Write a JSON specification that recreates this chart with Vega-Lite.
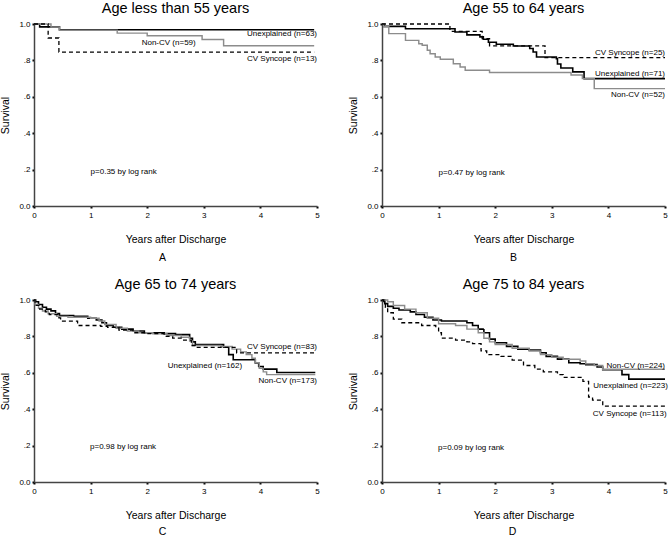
{
  "$schema": "https://vega.github.io/schema/vega-lite/v6.json",
  "padding": {"left": 0, "top": 0, "right": 0, "bottom": 0},
  "config": {
    "font": "Liberation Sans",
    "view": {"stroke": null},
    "axis": {"grid": false, "domainColor": "#444", "domainWidth": 1.5, "tickColor": "#000", "tickSize": 2, "tickWidth": 2, "labelFontSize": 8, "labelColor": "#000", "labelOverlap": false, "labelFlush": false, "titleFontSize": 10.5, "titleFontWeight": "normal", "titleColor": "#000"},
    "title": {"fontSize": 14.5, "fontWeight": "normal", "color": "#000", "anchor": "middle", "baseline": "alphabetic", "offset": 4}
  },
  "columns": 2,
  "spacing": {"column": 65, "row": 94},
  "bounds": "flush",
  "datasets": {
    "curves": [
      {"panel":"A","series":"Unexplained","t":0,"s":1},{"panel":"A","series":"Unexplained","t":0.1,"s":0.984},{"panel":"A","series":"Unexplained","t":0.45,"s":0.968},{"panel":"A","series":"Unexplained","t":4.95,"s":0.968},
      {"panel":"A","series":"Non-CV","t":0,"s":1},{"panel":"A","series":"Non-CV","t":0.3,"s":0.983},{"panel":"A","series":"Non-CV","t":0.45,"s":0.966},{"panel":"A","series":"Non-CV","t":1.47,"s":0.95},{"panel":"A","series":"Non-CV","t":2.0,"s":0.935},{"panel":"A","series":"Non-CV","t":2.97,"s":0.915},{"panel":"A","series":"Non-CV","t":3.35,"s":0.88},{"panel":"A","series":"Non-CV","t":4.95,"s":0.88},
      {"panel":"A","series":"CV Syncope","t":0,"s":1},{"panel":"A","series":"CV Syncope","t":0.25,"s":0.923},{"panel":"A","series":"CV Syncope","t":0.44,"s":0.846},{"panel":"A","series":"CV Syncope","t":4.95,"s":0.846},

      {"panel":"B","series":"Unexplained","t":0,"s":1},{"panel":"B","series":"Unexplained","t":0.035,"s":0.987},{"panel":"B","series":"Unexplained","t":0.415,"s":0.974},{"panel":"B","series":"Unexplained","t":1.29,"s":0.956},{"panel":"B","series":"Unexplained","t":1.5,"s":0.94},{"panel":"B","series":"Unexplained","t":1.73,"s":0.929},{"panel":"B","series":"Unexplained","t":1.79,"s":0.916},{"panel":"B","series":"Unexplained","t":1.88,"s":0.9},{"panel":"B","series":"Unexplained","t":2.02,"s":0.889},{"panel":"B","series":"Unexplained","t":2.32,"s":0.879},{"panel":"B","series":"Unexplained","t":2.61,"s":0.865},{"panel":"B","series":"Unexplained","t":2.67,"s":0.846},{"panel":"B","series":"Unexplained","t":2.73,"s":0.819},{"panel":"B","series":"Unexplained","t":3.08,"s":0.81},{"panel":"B","series":"Unexplained","t":3.1,"s":0.78},{"panel":"B","series":"Unexplained","t":3.16,"s":0.758},{"panel":"B","series":"Unexplained","t":3.37,"s":0.737},{"panel":"B","series":"Unexplained","t":3.57,"s":0.7},{"panel":"B","series":"Unexplained","t":5.0,"s":0.7},
      {"panel":"B","series":"Non-CV","t":0,"s":1},{"panel":"B","series":"Non-CV","t":0.03,"s":0.985},{"panel":"B","series":"Non-CV","t":0.12,"s":0.947},{"panel":"B","series":"Non-CV","t":0.415,"s":0.91},{"panel":"B","series":"Non-CV","t":0.65,"s":0.892},{"panel":"B","series":"Non-CV","t":0.71,"s":0.883},{"panel":"B","series":"Non-CV","t":0.8,"s":0.856},{"panel":"B","series":"Non-CV","t":0.85,"s":0.837},{"panel":"B","series":"Non-CV","t":0.94,"s":0.819},{"panel":"B","series":"Non-CV","t":1.03,"s":0.806},{"panel":"B","series":"Non-CV","t":1.26,"s":0.782},{"panel":"B","series":"Non-CV","t":1.38,"s":0.764},{"panel":"B","series":"Non-CV","t":1.47,"s":0.746},{"panel":"B","series":"Non-CV","t":1.9,"s":0.733},{"panel":"B","series":"Non-CV","t":3.34,"s":0.72},{"panel":"B","series":"Non-CV","t":3.54,"s":0.7},{"panel":"B","series":"Non-CV","t":3.75,"s":0.645},{"panel":"B","series":"Non-CV","t":5.0,"s":0.645},
      {"panel":"B","series":"CV Syncope","t":0,"s":1},{"panel":"B","series":"CV Syncope","t":1.2,"s":0.96},{"panel":"B","series":"CV Syncope","t":1.77,"s":0.92},{"panel":"B","series":"CV Syncope","t":1.9,"s":0.88},{"panel":"B","series":"CV Syncope","t":2.88,"s":0.815},{"panel":"B","series":"CV Syncope","t":5.0,"s":0.815},

      {"panel":"C","series":"Unexplained","t":0,"s":1},{"panel":"C","series":"Unexplained","t":0.03,"s":0.99},{"panel":"C","series":"Unexplained","t":0.08,"s":0.975},{"panel":"C","series":"Unexplained","t":0.15,"s":0.96},{"panel":"C","series":"Unexplained","t":0.22,"s":0.95},{"panel":"C","series":"Unexplained","t":0.3,"s":0.94},{"panel":"C","series":"Unexplained","t":0.38,"s":0.925},{"panel":"C","series":"Unexplained","t":0.45,"s":0.915},{"panel":"C","series":"Unexplained","t":0.7,"s":0.91},{"panel":"C","series":"Unexplained","t":0.95,"s":0.9},{"panel":"C","series":"Unexplained","t":1.1,"s":0.89},{"panel":"C","series":"Unexplained","t":1.2,"s":0.875},{"panel":"C","series":"Unexplained","t":1.28,"s":0.86},{"panel":"C","series":"Unexplained","t":1.4,"s":0.85},{"panel":"C","series":"Unexplained","t":1.55,"s":0.84},{"panel":"C","series":"Unexplained","t":1.75,"s":0.83},{"panel":"C","series":"Unexplained","t":1.95,"s":0.82},{"panel":"C","series":"Unexplained","t":2.3,"s":0.815},{"panel":"C","series":"Unexplained","t":2.5,"s":0.81},{"panel":"C","series":"Unexplained","t":2.75,"s":0.79},{"panel":"C","series":"Unexplained","t":2.8,"s":0.77},{"panel":"C","series":"Unexplained","t":2.85,"s":0.755},{"panel":"C","series":"Unexplained","t":3.35,"s":0.74},{"panel":"C","series":"Unexplained","t":3.44,"s":0.7},{"panel":"C","series":"Unexplained","t":3.52,"s":0.672},{"panel":"C","series":"Unexplained","t":3.91,"s":0.654},{"panel":"C","series":"Unexplained","t":3.97,"s":0.635},{"panel":"C","series":"Unexplained","t":4.05,"s":0.62},{"panel":"C","series":"Unexplained","t":4.29,"s":0.602},{"panel":"C","series":"Unexplained","t":4.97,"s":0.602},
      {"panel":"C","series":"Non-CV","t":0,"s":1},{"panel":"C","series":"Non-CV","t":0.02,"s":0.975},{"panel":"C","series":"Non-CV","t":0.08,"s":0.955},{"panel":"C","series":"Non-CV","t":0.15,"s":0.94},{"panel":"C","series":"Non-CV","t":0.25,"s":0.925},{"panel":"C","series":"Non-CV","t":0.4,"s":0.91},{"panel":"C","series":"Non-CV","t":0.6,"s":0.905},{"panel":"C","series":"Non-CV","t":1.0,"s":0.9},{"panel":"C","series":"Non-CV","t":1.15,"s":0.885},{"panel":"C","series":"Non-CV","t":1.25,"s":0.865},{"panel":"C","series":"Non-CV","t":1.45,"s":0.845},{"panel":"C","series":"Non-CV","t":1.65,"s":0.83},{"panel":"C","series":"Non-CV","t":1.85,"s":0.82},{"panel":"C","series":"Non-CV","t":2.1,"s":0.815},{"panel":"C","series":"Non-CV","t":2.35,"s":0.805},{"panel":"C","series":"Non-CV","t":2.6,"s":0.795},{"panel":"C","series":"Non-CV","t":2.75,"s":0.775},{"panel":"C","series":"Non-CV","t":2.8,"s":0.75},{"panel":"C","series":"Non-CV","t":3.3,"s":0.745},{"panel":"C","series":"Non-CV","t":3.5,"s":0.73},{"panel":"C","series":"Non-CV","t":3.65,"s":0.715},{"panel":"C","series":"Non-CV","t":3.75,"s":0.7},{"panel":"C","series":"Non-CV","t":3.85,"s":0.68},{"panel":"C","series":"Non-CV","t":3.91,"s":0.655},{"panel":"C","series":"Non-CV","t":3.98,"s":0.625},{"panel":"C","series":"Non-CV","t":4.05,"s":0.605},{"panel":"C","series":"Non-CV","t":4.11,"s":0.59},{"panel":"C","series":"Non-CV","t":4.97,"s":0.59},
      {"panel":"C","series":"CV Syncope","t":0,"s":1},{"panel":"C","series":"CV Syncope","t":0.02,"s":0.97},{"panel":"C","series":"CV Syncope","t":0.1,"s":0.95},{"panel":"C","series":"CV Syncope","t":0.2,"s":0.935},{"panel":"C","series":"CV Syncope","t":0.27,"s":0.92},{"panel":"C","series":"CV Syncope","t":0.44,"s":0.902},{"panel":"C","series":"CV Syncope","t":0.47,"s":0.884},{"panel":"C","series":"CV Syncope","t":0.77,"s":0.86},{"panel":"C","series":"CV Syncope","t":1.18,"s":0.855},{"panel":"C","series":"CV Syncope","t":1.3,"s":0.85},{"panel":"C","series":"CV Syncope","t":1.5,"s":0.835},{"panel":"C","series":"CV Syncope","t":1.75,"s":0.82},{"panel":"C","series":"CV Syncope","t":2.0,"s":0.815},{"panel":"C","series":"CV Syncope","t":2.3,"s":0.8},{"panel":"C","series":"CV Syncope","t":2.45,"s":0.79},{"panel":"C","series":"CV Syncope","t":2.6,"s":0.78},{"panel":"C","series":"CV Syncope","t":2.78,"s":0.75},{"panel":"C","series":"CV Syncope","t":2.85,"s":0.74},{"panel":"C","series":"CV Syncope","t":3.58,"s":0.709},{"panel":"C","series":"CV Syncope","t":4.97,"s":0.709},

      {"panel":"D","series":"Unexplained","t":0,"s":1},{"panel":"D","series":"Unexplained","t":0.05,"s":0.98},{"panel":"D","series":"Unexplained","t":0.1,"s":0.965},{"panel":"D","series":"Unexplained","t":0.2,"s":0.955},{"panel":"D","series":"Unexplained","t":0.3,"s":0.945},{"panel":"D","series":"Unexplained","t":0.5,"s":0.935},{"panel":"D","series":"Unexplained","t":0.6,"s":0.92},{"panel":"D","series":"Unexplained","t":0.75,"s":0.905},{"panel":"D","series":"Unexplained","t":0.9,"s":0.89},{"panel":"D","series":"Unexplained","t":1.05,"s":0.885},{"panel":"D","series":"Unexplained","t":1.5,"s":0.875},{"panel":"D","series":"Unexplained","t":1.6,"s":0.86},{"panel":"D","series":"Unexplained","t":1.7,"s":0.84},{"panel":"D","series":"Unexplained","t":1.8,"s":0.82},{"panel":"D","series":"Unexplained","t":1.9,"s":0.785},{"panel":"D","series":"Unexplained","t":2.0,"s":0.765},{"panel":"D","series":"Unexplained","t":2.2,"s":0.745},{"panel":"D","series":"Unexplained","t":2.4,"s":0.73},{"panel":"D","series":"Unexplained","t":2.6,"s":0.725},{"panel":"D","series":"Unexplained","t":2.8,"s":0.71},{"panel":"D","series":"Unexplained","t":2.9,"s":0.69},{"panel":"D","series":"Unexplained","t":3.1,"s":0.675},{"panel":"D","series":"Unexplained","t":3.3,"s":0.655},{"panel":"D","series":"Unexplained","t":3.5,"s":0.65},{"panel":"D","series":"Unexplained","t":3.6,"s":0.645},{"panel":"D","series":"Unexplained","t":3.8,"s":0.632},{"panel":"D","series":"Unexplained","t":3.9,"s":0.617},{"panel":"D","series":"Unexplained","t":4.24,"s":0.59},{"panel":"D","series":"Unexplained","t":4.36,"s":0.565},{"panel":"D","series":"Unexplained","t":5.0,"s":0.565},
      {"panel":"D","series":"Non-CV","t":0,"s":1},{"panel":"D","series":"Non-CV","t":0.1,"s":0.99},{"panel":"D","series":"Non-CV","t":0.2,"s":0.97},{"panel":"D","series":"Non-CV","t":0.4,"s":0.95},{"panel":"D","series":"Non-CV","t":0.6,"s":0.93},{"panel":"D","series":"Non-CV","t":0.8,"s":0.9},{"panel":"D","series":"Non-CV","t":1.0,"s":0.87},{"panel":"D","series":"Non-CV","t":1.3,"s":0.86},{"panel":"D","series":"Non-CV","t":1.5,"s":0.84},{"panel":"D","series":"Non-CV","t":1.7,"s":0.82},{"panel":"D","series":"Non-CV","t":1.8,"s":0.79},{"panel":"D","series":"Non-CV","t":1.9,"s":0.77},{"panel":"D","series":"Non-CV","t":2.0,"s":0.755},{"panel":"D","series":"Non-CV","t":2.3,"s":0.735},{"panel":"D","series":"Non-CV","t":2.6,"s":0.72},{"panel":"D","series":"Non-CV","t":2.8,"s":0.7},{"panel":"D","series":"Non-CV","t":3.0,"s":0.685},{"panel":"D","series":"Non-CV","t":3.2,"s":0.675},{"panel":"D","series":"Non-CV","t":3.5,"s":0.665},{"panel":"D","series":"Non-CV","t":3.6,"s":0.65},{"panel":"D","series":"Non-CV","t":3.75,"s":0.64},{"panel":"D","series":"Non-CV","t":3.9,"s":0.62},{"panel":"D","series":"Non-CV","t":5.0,"s":0.62},
      {"panel":"D","series":"CV Syncope","t":0,"s":1},{"panel":"D","series":"CV Syncope","t":0.03,"s":0.98},{"panel":"D","series":"CV Syncope","t":0.06,"s":0.96},{"panel":"D","series":"CV Syncope","t":0.1,"s":0.93},{"panel":"D","series":"CV Syncope","t":0.2,"s":0.895},{"panel":"D","series":"CV Syncope","t":0.35,"s":0.875},{"panel":"D","series":"CV Syncope","t":0.7,"s":0.86},{"panel":"D","series":"CV Syncope","t":0.95,"s":0.85},{"panel":"D","series":"CV Syncope","t":1.0,"s":0.82},{"panel":"D","series":"CV Syncope","t":1.05,"s":0.79},{"panel":"D","series":"CV Syncope","t":1.3,"s":0.78},{"panel":"D","series":"CV Syncope","t":1.5,"s":0.77},{"panel":"D","series":"CV Syncope","t":1.6,"s":0.76},{"panel":"D","series":"CV Syncope","t":1.75,"s":0.72},{"panel":"D","series":"CV Syncope","t":1.85,"s":0.7},{"panel":"D","series":"CV Syncope","t":2.1,"s":0.69},{"panel":"D","series":"CV Syncope","t":2.3,"s":0.67},{"panel":"D","series":"CV Syncope","t":2.5,"s":0.64},{"panel":"D","series":"CV Syncope","t":2.7,"s":0.62},{"panel":"D","series":"CV Syncope","t":2.85,"s":0.605},{"panel":"D","series":"CV Syncope","t":3.1,"s":0.59},{"panel":"D","series":"CV Syncope","t":3.2,"s":0.575},{"panel":"D","series":"CV Syncope","t":3.55,"s":0.553},{"panel":"D","series":"CV Syncope","t":3.65,"s":0.467},{"panel":"D","series":"CV Syncope","t":3.72,"s":0.45},{"panel":"D","series":"CV Syncope","t":3.9,"s":0.417},{"panel":"D","series":"CV Syncope","t":5.0,"s":0.417}
    ],
    "endLabels": [
      {"panel":"A","t":5.0,"s":0.944,"label":"Unexplained (n=63)"},
      {"panel":"A","t":5.0,"s":0.807,"label":"CV Syncope (n=13)"},
      {"panel":"B","t":5.0,"s":0.841,"label":"CV Syncope (n=25)"},
      {"panel":"B","t":5.0,"s":0.726,"label":"Unexplained (n=71)"},
      {"panel":"B","t":5.0,"s":0.612,"label":"Non-CV (n=52)"},
      {"panel":"C","t":5.0,"s":0.742,"label":"CV Syncope (n=83)"},
      {"panel":"C","t":5.0,"s":0.556,"label":"Non-CV (n=173)"},
      {"panel":"D","t":5.0,"s":0.636,"label":"Non-CV (n=224)"},
      {"panel":"D","t":5.05,"s":0.528,"label":"Unexplained (n=223)"},
      {"panel":"D","t":5.03,"s":0.375,"label":"CV Syncope (n=113)"}
    ],
    "midLabels": [
      {"panel":"A","t":2.38,"s":0.897,"label":"Non-CV (n=59)"},
      {"panel":"C","t":3.02,"s":0.639,"label":"Unexplained (n=162)"}
    ],
    "pValues": [
      {"panel":"A","t":1.0,"s":0.185,"label":"p=0.35 by log rank"},
      {"panel":"B","t":1.0,"s":0.183,"label":"p=0.47 by log rank"},
      {"panel":"C","t":0.99,"s":0.193,"label":"p=0.98 by log rank"},
      {"panel":"D","t":0.99,"s":0.185,"label":"p=0.09 by log rank"}
    ]
  },
  "concat": [
    {
      "width": 283, "height": 182,
      "title": {"text": "Age less than 55 years"},
      "resolve": {"axis": {"x": "independent"}},
      "encoding": {
        "x": {"field": "t", "type": "quantitative", "scale": {"domain": [0, 5]}, "axis": {"values": [0,1,2,3,4,5], "format": "d", "labelPadding": 3, "titlePadding": 15, "title": "Years after Discharge"}},
        "y": {"field": "s", "type": "quantitative", "scale": {"domain": [0, 1]}, "axis": {"values": [0,0.2,0.4,0.6,0.8,1], "labelOverlap": false, "labelExpr": "datum.value == 0 ? '0.0' : replace(format(datum.value, '.1f'), '0.', '.')", "labelPadding": 2, "titlePadding": 8, "title": "Survival"}}
      },
      "layer": [
        {"data": {"name": "curves"}, "transform": [{"filter": "datum.panel == 'A'"}],
         "mark": {"type": "line", "interpolate": "step-after"},
         "encoding": {
           "color": {"field": "series", "scale": {"domain": ["Unexplained", "Non-CV", "CV Syncope"], "range": ["#000000", "#8c8c8c", "#000000"]}, "legend": null},
           "strokeDash": {"field": "series", "scale": {"domain": ["Unexplained", "Non-CV", "CV Syncope"], "range": [[1, 0], [1, 0], [4, 3]]}, "legend": null},
           "strokeWidth": {"field": "series", "scale": {"domain": ["Unexplained", "Non-CV", "CV Syncope"], "range": [1.6, 1.3, 1.1]}, "legend": null}
         }},
        {"data": {"name": "endLabels"}, "transform": [{"filter": "datum.panel == 'A'"}],
         "mark": {"type": "text", "align": "right", "baseline": "middle", "fontSize": 8, "color": "#000"},
         "encoding": {"x": {"field": "t", "type": "quantitative", "axis": null}, "text": {"field": "label"}}},
        {"data": {"name": "midLabels"}, "transform": [{"filter": "datum.panel == 'A'"}],
         "mark": {"type": "text", "align": "center", "baseline": "middle", "fontSize": 8, "color": "#000"},
         "encoding": {"x": {"field": "t", "type": "quantitative", "axis": null}, "text": {"field": "label"}}},
        {"data": {"name": "pValues"}, "transform": [{"filter": "datum.panel == 'A'"}],
         "mark": {"type": "text", "align": "left", "baseline": "middle", "fontSize": 8, "color": "#000"},
         "encoding": {"x": {"field": "t", "type": "quantitative", "axis": {"orient": "bottom", "domain": false, "ticks": false, "labels": false, "title": "A", "titleX": 128, "titleY": 51, "titleAlign": "center", "titleBaseline": "middle"}}, "text": {"field": "label"}}}
      ]
    },
    {
      "width": 283, "height": 182,
      "title": {"text": "Age 55 to 64 years"},
      "resolve": {"axis": {"x": "independent"}},
      "encoding": {
        "x": {"field": "t", "type": "quantitative", "scale": {"domain": [0, 5]}, "axis": {"values": [0,1,2,3,4,5], "format": "d", "labelPadding": 3, "titlePadding": 15, "title": "Years after Discharge"}},
        "y": {"field": "s", "type": "quantitative", "scale": {"domain": [0, 1]}, "axis": {"values": [0,0.2,0.4,0.6,0.8,1], "labelOverlap": false, "labelExpr": "datum.value == 0 ? '0.0' : replace(format(datum.value, '.1f'), '0.', '.')", "labelPadding": 2, "titlePadding": 8, "title": "Survival"}}
      },
      "layer": [
        {"data": {"name": "curves"}, "transform": [{"filter": "datum.panel == 'B'"}],
         "mark": {"type": "line", "interpolate": "step-after"},
         "encoding": {
           "color": {"field": "series", "scale": {"domain": ["Unexplained", "Non-CV", "CV Syncope"], "range": ["#000000", "#8c8c8c", "#000000"]}, "legend": null},
           "strokeDash": {"field": "series", "scale": {"domain": ["Unexplained", "Non-CV", "CV Syncope"], "range": [[1, 0], [1, 0], [4, 3]]}, "legend": null},
           "strokeWidth": {"field": "series", "scale": {"domain": ["Unexplained", "Non-CV", "CV Syncope"], "range": [1.6, 1.3, 1.1]}, "legend": null}
         }},
        {"data": {"name": "endLabels"}, "transform": [{"filter": "datum.panel == 'B'"}],
         "mark": {"type": "text", "align": "right", "baseline": "middle", "fontSize": 8, "color": "#000"},
         "encoding": {"x": {"field": "t", "type": "quantitative", "axis": null}, "text": {"field": "label"}}},
        {"data": {"name": "pValues"}, "transform": [{"filter": "datum.panel == 'B'"}],
         "mark": {"type": "text", "align": "left", "baseline": "middle", "fontSize": 8, "color": "#000"},
         "encoding": {"x": {"field": "t", "type": "quantitative", "axis": {"orient": "bottom", "domain": false, "ticks": false, "labels": false, "title": "B", "titleX": 131, "titleY": 51, "titleAlign": "center", "titleBaseline": "middle"}}, "text": {"field": "label"}}}
      ]
    },
    {
      "width": 283, "height": 182,
      "title": {"text": "Age 65 to 74 years"},
      "resolve": {"axis": {"x": "independent"}},
      "encoding": {
        "x": {"field": "t", "type": "quantitative", "scale": {"domain": [0, 5]}, "axis": {"values": [0,1,2,3,4,5], "format": "d", "labelPadding": 3, "titlePadding": 15, "title": "Years after Discharge"}},
        "y": {"field": "s", "type": "quantitative", "scale": {"domain": [0, 1]}, "axis": {"values": [0,0.2,0.4,0.6,0.8,1], "labelOverlap": false, "labelExpr": "datum.value == 0 ? '0.0' : replace(format(datum.value, '.1f'), '0.', '.')", "labelPadding": 2, "titlePadding": 8, "title": "Survival"}}
      },
      "layer": [
        {"data": {"name": "curves"}, "transform": [{"filter": "datum.panel == 'C'"}],
         "mark": {"type": "line", "interpolate": "step-after"},
         "encoding": {
           "color": {"field": "series", "scale": {"domain": ["Unexplained", "Non-CV", "CV Syncope"], "range": ["#000000", "#8c8c8c", "#000000"]}, "legend": null},
           "strokeDash": {"field": "series", "scale": {"domain": ["Unexplained", "Non-CV", "CV Syncope"], "range": [[1, 0], [1, 0], [4, 3]]}, "legend": null},
           "strokeWidth": {"field": "series", "scale": {"domain": ["Unexplained", "Non-CV", "CV Syncope"], "range": [1.6, 1.3, 1.1]}, "legend": null}
         }},
        {"data": {"name": "endLabels"}, "transform": [{"filter": "datum.panel == 'C'"}],
         "mark": {"type": "text", "align": "right", "baseline": "middle", "fontSize": 8, "color": "#000"},
         "encoding": {"x": {"field": "t", "type": "quantitative", "axis": null}, "text": {"field": "label"}}},
        {"data": {"name": "midLabels"}, "transform": [{"filter": "datum.panel == 'C'"}],
         "mark": {"type": "text", "align": "center", "baseline": "middle", "fontSize": 8, "color": "#000"},
         "encoding": {"x": {"field": "t", "type": "quantitative", "axis": null}, "text": {"field": "label"}}},
        {"data": {"name": "pValues"}, "transform": [{"filter": "datum.panel == 'C'"}],
         "mark": {"type": "text", "align": "left", "baseline": "middle", "fontSize": 8, "color": "#000"},
         "encoding": {"x": {"field": "t", "type": "quantitative", "axis": {"orient": "bottom", "domain": false, "ticks": false, "labels": false, "title": "C", "titleX": 128, "titleY": 49, "titleAlign": "center", "titleBaseline": "middle"}}, "text": {"field": "label"}}}
      ]
    },
    {
      "width": 283, "height": 182,
      "title": {"text": "Age 75 to 84 years"},
      "resolve": {"axis": {"x": "independent"}},
      "encoding": {
        "x": {"field": "t", "type": "quantitative", "scale": {"domain": [0, 5]}, "axis": {"values": [0,1,2,3,4,5], "format": "d", "labelPadding": 3, "titlePadding": 15, "title": "Years after Discharge"}},
        "y": {"field": "s", "type": "quantitative", "scale": {"domain": [0, 1]}, "axis": {"values": [0,0.2,0.4,0.6,0.8,1], "labelOverlap": false, "labelExpr": "datum.value == 0 ? '0.0' : replace(format(datum.value, '.1f'), '0.', '.')", "labelPadding": 2, "titlePadding": 8, "title": "Survival"}}
      },
      "layer": [
        {"data": {"name": "curves"}, "transform": [{"filter": "datum.panel == 'D'"}],
         "mark": {"type": "line", "interpolate": "step-after"},
         "encoding": {
           "color": {"field": "series", "scale": {"domain": ["Unexplained", "Non-CV", "CV Syncope"], "range": ["#000000", "#8c8c8c", "#000000"]}, "legend": null},
           "strokeDash": {"field": "series", "scale": {"domain": ["Unexplained", "Non-CV", "CV Syncope"], "range": [[1, 0], [1, 0], [4, 3]]}, "legend": null},
           "strokeWidth": {"field": "series", "scale": {"domain": ["Unexplained", "Non-CV", "CV Syncope"], "range": [1.6, 1.3, 1.1]}, "legend": null}
         }},
        {"data": {"name": "endLabels"}, "transform": [{"filter": "datum.panel == 'D'"}],
         "mark": {"type": "text", "align": "right", "baseline": "middle", "fontSize": 8, "color": "#000"},
         "encoding": {"x": {"field": "t", "type": "quantitative", "axis": null}, "text": {"field": "label"}}},
        {"data": {"name": "pValues"}, "transform": [{"filter": "datum.panel == 'D'"}],
         "mark": {"type": "text", "align": "left", "baseline": "middle", "fontSize": 8, "color": "#000"},
         "encoding": {"x": {"field": "t", "type": "quantitative", "axis": {"orient": "bottom", "domain": false, "ticks": false, "labels": false, "title": "D", "titleX": 130, "titleY": 49, "titleAlign": "center", "titleBaseline": "middle"}}, "text": {"field": "label"}}}
      ]
    }
  ]
}
